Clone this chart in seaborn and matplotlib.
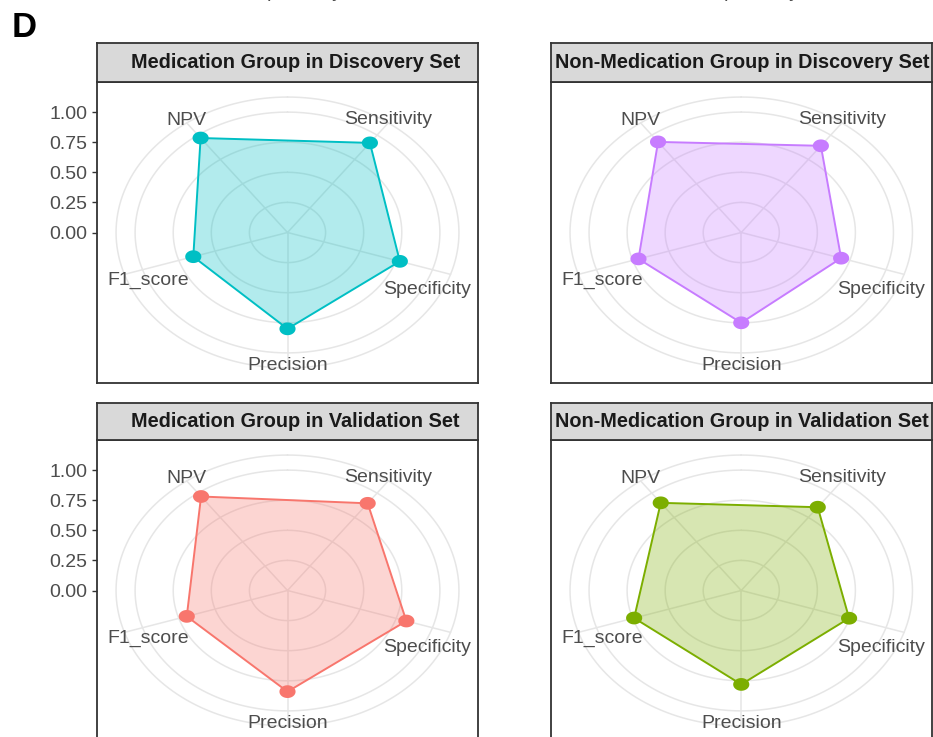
import numpy as np
import pandas as pd
import matplotlib
matplotlib.use("Agg")
import matplotlib.pyplot as plt
from matplotlib.path import Path
import seaborn as sns

# ---- data -------------------------------------------------------------
metrics = ["Sensitivity", "Specificity", "Precision", "F1_score", "NPV"]

med_discovery = [0.92, 0.775, 0.80, 0.65, 0.97]
nonmed_discovery = [0.89, 0.69, 0.75, 0.71, 0.93]
med_validation = [0.895, 0.82, 0.84, 0.695, 0.965]
nonmed_validation = [0.855, 0.745, 0.78, 0.74, 0.90]

panel_titles = [
    "Medication Group in Discovery Set",
    "Non-Medication Group in Discovery Set",
    "Medication Group in Validation Set",
    "Non-Medication Group in Validation Set",
]
panel_values = [med_discovery, nonmed_discovery, med_validation, nonmed_validation]
panel_colors = ["#00BFC4", "#C77CFF", "#F8766D", "#7CAE00"]

r_breaks = [0.0, 0.25, 0.5, 0.75, 1.0]
r_tick_labels = ["0.00", "0.25", "0.50", "0.75", "1.00"]

# ---- style ------------------------------------------------------------
sns.set_theme(style="white")
plt.rcParams["font.family"] = ["Liberation Sans", "DejaVu Sans"]

TEXT_GREY = "#4D4D4D"
BORDER = "#333333"
GRID = "#E6E6E6"
STRIP_BG = "#D9D9D9"
FONT = 14

OUTER = 1.125          # outer ring / label radius
LIMIT = 1.25           # half-extent of each panel in data units

# clockwise from the top, first spoke at 36 degrees
theta = np.deg2rad(36 + 72 * np.arange(len(metrics)))

# small label nudges (pixels, y up) so the spoke labels sit inside the frame
label_nudge = {
    "NPV": (0, 2),
    "Sensitivity": (0, 3),
    "Specificity": (-23, -15),
    "Precision": (0, 2),
    "F1_score": (24, -6),
}

# strip title offset (pixels) per column
strip_shift = [8, 1]

# elliptical point marker
tt = np.linspace(0, 2 * np.pi, 65)
ellipse_marker = Path(np.column_stack([np.cos(tt), 0.79 * np.sin(tt)]), closed=True)

W, H = 933, 737
fig = plt.figure(figsize=(W / 100, H / 100), dpi=100)


def px_box(x0, y0, x1, y1):
    return [x0 / W, 1 - y1 / H, (x1 - x0) / W, (y1 - y0) / H]


cols = [(97, 478), (551, 931.5)]
rows = [((43, 82), (82, 383)), ((403, 440), (440, 741))]

for k, (title, vals, color) in enumerate(zip(panel_titles, panel_values, panel_colors)):
    row, col = divmod(k, 2)
    (sx0, sx1) = cols[col]
    (st0, st1), (py0, py1) = rows[row]

    ax = fig.add_axes(px_box(sx0, py0, sx1, py1))
    ax.set_xlim(-LIMIT, LIMIT)
    ax.set_ylim(-LIMIT, LIMIT)
    ax.set_facecolor("white")

    # polar grid: rings and spokes
    ring_t = np.linspace(0, 2 * np.pi, 361)
    for r in r_breaks[1:] + [OUTER]:
        ax.plot(r * np.sin(ring_t), r * np.cos(ring_t), color=GRID, lw=1.1, zorder=0.5)
    for th in theta:
        ax.plot([0, OUTER * np.sin(th)], [0, OUTER * np.cos(th)], color=GRID, lw=1.1, zorder=0.5)

    # radar polygon from the values
    v = np.asarray(vals, dtype=float)
    df = pd.DataFrame({"metric": metrics, "value": v,
                       "x": v * np.sin(theta), "y": v * np.cos(theta)})
    closed = pd.concat([df, df.iloc[[0]]], ignore_index=True)

    ax.fill(closed["x"], closed["y"], color=color, alpha=0.3, lw=0, zorder=1)
    sns.lineplot(data=closed, x="x", y="y", sort=False, estimator=None,
                 color=color, lw=1.4, ax=ax, zorder=2)
    sns.scatterplot(data=df, x="x", y="y", color=color, marker=ellipse_marker,
                    s=135, linewidth=0, edgecolor="none", ax=ax, zorder=3)

    # spoke labels
    for name, th in zip(metrics, theta):
        dx, dy = label_nudge[name]
        ax.annotate(name, xy=(OUTER * np.sin(th), OUTER * np.cos(th)),
                    xytext=(dx * 0.72, dy * 0.72), textcoords="offset points",
                    ha="center", va="center", fontsize=FONT, color=TEXT_GREY,
                    zorder=4, annotation_clip=False)

    ax.set_xlabel("")
    ax.set_ylabel("")
    ax.set_xticks([])
    if col == 0:
        ax.set_yticks(r_breaks)
        ax.set_yticklabels(r_tick_labels)
        ax.tick_params(axis="y", which="both", left=True, length=3.6, width=1.0,
                       color=BORDER, labelsize=FONT, labelcolor=TEXT_GREY, pad=3.5)
    else:
        ax.set_yticks([])
    for sp in ax.spines.values():
        sp.set_visible(True)
        sp.set_color(BORDER)
        sp.set_linewidth(1.3)

    # facet strip
    sax = fig.add_axes(px_box(sx0, st0, sx1, st1))
    sax.set_facecolor(STRIP_BG)
    sax.set_xticks([])
    sax.set_yticks([])
    for sp in sax.spines.values():
        sp.set_visible(True)
        sp.set_color(BORDER)
        sp.set_linewidth(1.3)
    sax.annotate(title, xy=(0.5, 0.5), xycoords="axes fraction",
                 xytext=(strip_shift[col] * 0.72, 0), textcoords="offset points",
                 ha="center", va="center", fontsize=14.3, fontweight="bold",
                 color="#1A1A1A")

# panel tag
fig.text(12 / W, 1 - 36.7 / H, "D", ha="left", va="baseline",
         fontsize=25, fontweight="bold", color="black")

# tails of the spoke labels from the row above
for x0 in (254, 711):
    fig.text(x0 / W, 1 + 3 / H, "Specificity", ha="left", va="baseline",
             fontsize=FONT, color=TEXT_GREY)

fig.savefig("out.png", dpi=100)
